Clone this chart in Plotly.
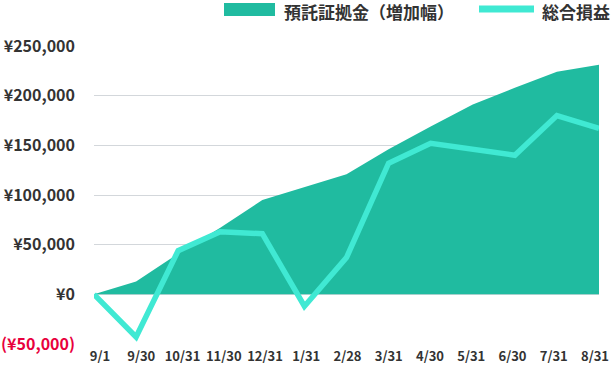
import plotly.graph_objects as go

categories = ["9/1", "9/30", "10/31", "11/30", "12/31", "1/31", "2/28",
              "3/31", "4/30", "5/31", "6/30", "7/31", "8/31"]
deposit_increase = [0, 13000, 41000, 67000, 95000, 108000, 121000,
                    146000, 169000, 191000, 208000, 224000, 231000]
total_pnl = [0, -43000, 44000, 63000, 61000, -12000, 37000,
             132000, 152000, 146000, 140000, 180000, 167000]
y_ticks = [-50000, 0, 50000, 100000, 150000, 200000, 250000]

AREA_COLOR = "#20bba0"
LINE_COLOR = "#40e9d3"
TEXT_COLOR = "#333333"
NEG_COLOR = "#e8003d"
FONT = "Noto Sans CJK JP"

def fmt(v):
    if v < 0:
        return f"<span style='color:{NEG_COLOR}'>(¥{abs(v):,})</span>"
    return f"¥{v:,}"

x = list(range(len(categories)))
n = len(categories) - 1

fig = go.Figure()
fig.add_trace(go.Scatter(
    x=x, y=deposit_increase, mode="lines", fill="tozeroy",
    fillcolor=AREA_COLOR, line=dict(color=AREA_COLOR, width=0),
    name="預託証拠金（増加幅）", showlegend=False, hoverinfo="skip"))
fig.add_trace(go.Scatter(
    x=x, y=total_pnl, mode="lines",
    line=dict(color=LINE_COLOR, width=5.5),
    name="総合損益", showlegend=False, hoverinfo="skip"))
# carrier for the category label axis (labels are spread slightly inside the plot width)
fig.add_trace(go.Scatter(
    x=x, y=[None] * len(x), xaxis="x2", mode="lines",
    showlegend=False, hoverinfo="skip"))

fig.update_layout(
    width=611, height=367,
    margin=dict(l=94, r=12, t=46, b=23, autoexpand=False),
    paper_bgcolor="white", plot_bgcolor="white",
    font=dict(family=FONT, color=TEXT_COLOR, size=14),
    xaxis=dict(range=[0, n], showticklabels=False,
               showgrid=False, zeroline=False, ticks="", showline=False,
               automargin=False),
    xaxis2=dict(range=[-0.1455, 12.097], overlaying="x", anchor="y", side="bottom",
                tickvals=x, ticktext=categories,
                showgrid=False, zeroline=False, ticks="", showline=False,
                automargin=False, ticklabeloverflow="allow",
                tickfont=dict(size=13, family=FONT, weight="bold"),
                ticklabelstandoff=3),
    yaxis=dict(range=[-50000, 250000], tickvals=y_ticks,
               ticktext=[fmt(v) for v in y_ticks],
               showgrid=True, gridcolor="#d3d7db", gridwidth=1,
               zeroline=False, ticks="", showline=False,
               automargin=False, ticklabeloverflow="allow",
               tickfont=dict(size=16, family=FONT, weight="bold"),
               ticklabelstandoff=18),
)

# manual legend
fig.add_shape(type="rect", xref="paper", yref="paper",
              x0=(224 - 94) / 505, x1=(275 - 94) / 505,
              y0=1 + (46 - 16) / 298, y1=1 + (46 - 3) / 298,
              fillcolor=AREA_COLOR, line=dict(width=0))
fig.add_annotation(text="<b>預託証拠金（増加幅）</b>", xref="paper", yref="paper",
                   x=(283 - 94) / 505, y=1 + (46 - 11) / 298, xanchor="left", yanchor="middle",
                   showarrow=False, borderpad=0,
                   font=dict(size=17, family=FONT, color=TEXT_COLOR))
fig.add_shape(type="line", xref="paper", yref="paper",
              x0=(479 - 94) / 505, x1=(534 - 94) / 505,
              y0=1 + (46 - 9) / 298, y1=1 + (46 - 9) / 298,
              line=dict(color=LINE_COLOR, width=7))
fig.add_annotation(text="<b>総合損益</b>", xref="paper", yref="paper",
                   x=(541 - 94) / 505, y=1 + (46 - 11) / 298, xanchor="left", yanchor="middle",
                   showarrow=False, borderpad=0,
                   font=dict(size=17, family=FONT, color=TEXT_COLOR))

fig.write_html("out.html")
